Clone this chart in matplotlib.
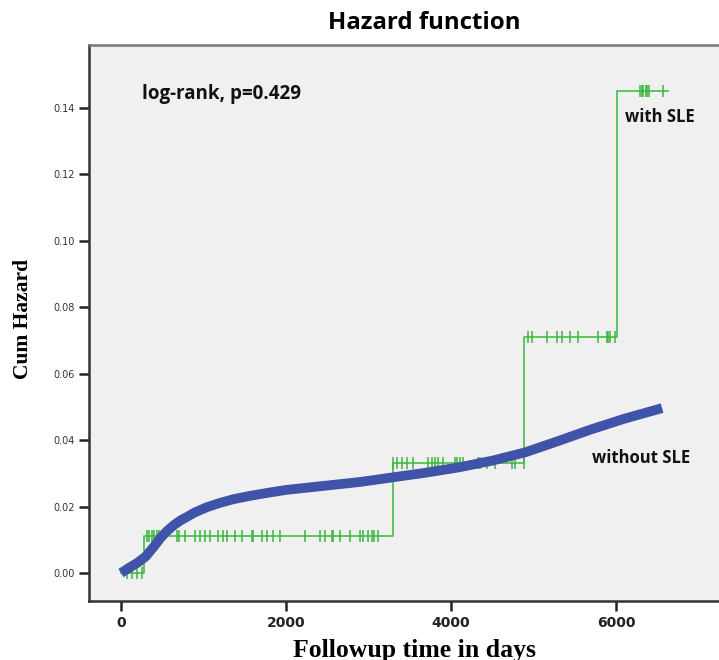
import matplotlib
matplotlib.use("Agg")
import matplotlib.pyplot as plt

# cumulative hazard, group without SLE (smooth curve)
no_sle_days = [0, 100, 200, 300, 400, 480, 560, 640, 720, 800, 900, 1040, 1200,
               1360, 1560, 1770, 2000, 2300, 2600, 2900, 3300, 3700, 4100, 4500,
               4900, 5300, 5700, 6100, 6560]
no_sle_haz = [0.0, 0.0016, 0.0031, 0.0050, 0.0080, 0.0106, 0.0127, 0.0144, 0.0158,
              0.0169, 0.0183, 0.0198, 0.0211, 0.0222, 0.0232, 0.0241, 0.0250,
              0.0258, 0.0266, 0.0274, 0.0288, 0.0302, 0.0318, 0.0338, 0.0363,
              0.0397, 0.0432, 0.0464, 0.0496]

# group with SLE: step function
sle_step_days = [0, 280, 3300, 4890, 6010, 6630]
sle_step_haz = [0.0, 0.0110, 0.0331, 0.0710, 0.1450, 0.1450]

# censored observations, with SLE
cens_days = [70, 130, 190, 250,
             311, 345, 372, 400, 432, 460, 493, 675, 700, 776, 897, 958, 1018, 1079,
             1180, 1233, 1281, 1382, 1463, 1584, 1604, 1705, 1766, 1847, 1927, 2230,
             2412, 2473, 2553, 2574, 2655, 2776, 2897, 2933, 2994, 3042, 3067, 3115,
             3301, 3342, 3403, 3463, 3544, 3725, 3766, 3806, 3846, 3907, 4048, 4069,
             4109, 4141, 4331, 4352, 4432, 4533, 4735, 4776, 4880,
             4937, 4978, 5160, 5281, 5341, 5442, 5543, 5786, 5887, 5907, 5927, 5990,
             6291, 6311, 6331, 6364, 6380, 6404, 6566]


def step_value(day):
    val = sle_step_haz[0]
    for d, h in zip(sle_step_days, sle_step_haz):
        if day >= d:
            val = h
    return val


cens_haz = [step_value(d) for d in cens_days]

GREEN = "#52c152"
BLUE = "#3f53a8"

fig = plt.figure(figsize=(7.19, 6.60), dpi=100)
ax = fig.add_axes([0.1238, 0.0894, 0.8762, 0.8424])
ax.set_facecolor("#f0f0f0")

ax.plot(no_sle_days, no_sle_haz, color=BLUE, linewidth=7, solid_capstyle="butt",
        solid_joinstyle="round", zorder=3)
ax.step(sle_step_days, sle_step_haz, where="post", color=GREEN, linewidth=1.3,
        zorder=2)
ax.plot(cens_days, cens_haz, linestyle="none", marker="|", markersize=8,
        markeredgewidth=1.1, color="#3cb43c", zorder=2)

ax.set_xlim(-388, 7250)
ax.set_ylim(-0.0084, 0.1588)
ax.set_xticks([0, 2000, 4000, 6000])
ax.set_yticks([0.0, 0.02, 0.04, 0.06, 0.08, 0.10, 0.12, 0.14])
ax.set_yticklabels([f"{v:.2f}" for v in ax.get_yticks()], fontsize=7,
                   color="#333333")
ax.set_xticklabels(["0", "2000", "4000", "6000"], fontsize=10, fontweight="bold",
                   color="#222222")
ax.tick_params(axis="both", direction="out", length=7, width=1.8, color="#222222")

for side in ("left", "bottom"):
    ax.spines[side].set_linewidth(1.8)
    ax.spines[side].set_color("#333333")
ax.spines["top"].set_linewidth(1.8)
ax.spines["top"].set_color("#777777")
ax.spines["right"].set_visible(False)

fig.text(23 / 719, 1 - 319 / 660, "Cum Hazard", family="Liberation Serif",
         fontweight="bold", fontsize=15.5, rotation=90, ha="center", va="center")
fig.text(415 / 719, 1 - 650 / 660, "Followup time in days",
         family="Liberation Serif", fontweight="bold", fontsize=18.5,
         ha="center", va="center")
fig.text(424 / 719, 1 - 23 / 660, "Hazard function", ha="center", va="center",
         fontsize=17.3, fontweight="bold", family="Open Sans")

ax.text(255, 0.1441, "log-rank, p=0.429", fontsize=13.5, fontweight="bold",
        family="Open Sans", va="center", color="#111111")
ax.text(6109, 0.1371, "with SLE", fontsize=12, fontweight="bold",
        family="Open Sans", va="center", color="#111111")
ax.text(5709, 0.0346, "without SLE", fontsize=12, fontweight="bold",
        family="Open Sans", va="center", color="#111111")

fig.savefig("out.png", dpi=100)
